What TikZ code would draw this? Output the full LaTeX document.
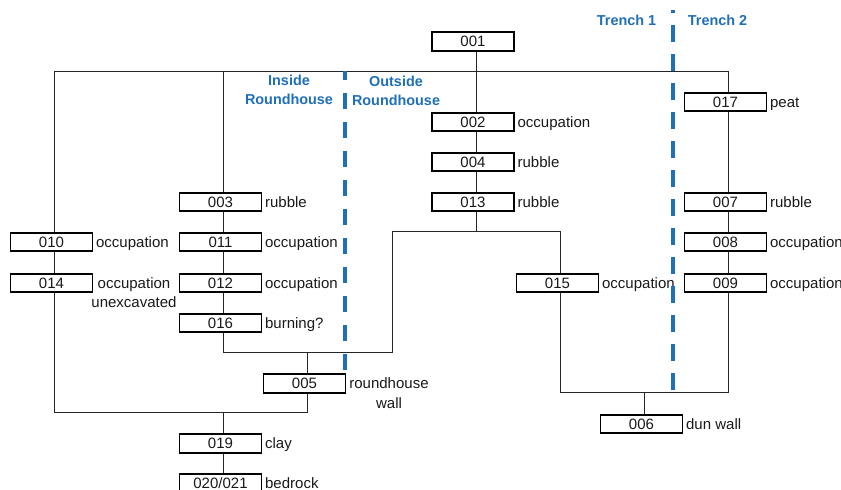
\documentclass[tikz,border=0pt]{standalone}
\usepackage{fontspec}
\setmainfont{Liberation Sans}
\definecolor{dashblue}{RGB}{31,111,186}
\definecolor{ink}{RGB}{25,25,25}
\begin{document}
\begin{tikzpicture}[x=1pt,y=-1pt,
  box/.style={draw=black, fill=white, line width=1.9pt, minimum width=82pt, minimum height=18.5pt, inner sep=0pt, font=\fontsize{15}{19.5}\selectfont, text=ink},
  lab/.style={inner sep=0pt, font=\fontsize{15}{19.5}\selectfont, text=ink, anchor=base west},
  conn/.style={line width=0.9pt, draw=black!85},
  zone/.style={draw=dashblue, line width=4pt},
  zlab/.style={inner sep=0pt, font=\fontsize{14.4}{19.5}\selectfont\bfseries, text=dashblue, align=center}
]
\useasboundingbox (0,0) rectangle (841,490);

% boxes
\node[box] (n001) at (473,41.5) {001};
\node[box] (n017) at (725.5,102) {017};
\node[box] (n002) at (473,122) {002};
\node[box] (n004) at (473,162) {004};
\node[box] (n003) at (220.5,202) {003};
\node[box] (n013) at (473,202) {013};
\node[box] (n007) at (725.5,202) {007};
\node[box] (n010) at (51.5,242) {010};
\node[box] (n011) at (220.5,242) {011};
\node[box] (n008) at (725.5,242) {008};
\node[box] (n014) at (51.5,283) {014};
\node[box] (n012) at (220.5,283) {012};
\node[box] (n015) at (557.5,283) {015};
\node[box] (n009) at (725.5,283) {009};
\node[box] (n016) at (220.5,323) {016};
\node[box] (n005) at (304.5,383.5) {005};
\node[box] (n006) at (641.5,424) {006};
\node[box] (n019) at (220.5,443.5) {019};
\node[box] (n020) at (220.5,483) {020/021};

% labels
\node[lab] (l017) at ([xshift=2.5pt]n017.east |- n017.base) {peat};
\node[lab] (l002) at ([xshift=2.5pt]n002.east |- n002.base) {occupation};
\node[lab] (l004) at ([xshift=2.5pt]n004.east |- n004.base) {rubble};
\node[lab] (l003) at ([xshift=2.5pt]n003.east |- n003.base) {rubble};
\node[lab] (l013) at ([xshift=2.5pt]n013.east |- n013.base) {rubble};
\node[lab] (l007) at ([xshift=2.5pt]n007.east |- n007.base) {rubble};
\node[lab] (l010) at ([xshift=2.5pt]n010.east |- n010.base) {occupation};
\node[lab] (l011) at ([xshift=2.5pt]n011.east |- n011.base) {occupation};
\node[lab] (l008) at ([xshift=2.5pt]n008.east |- n008.base) {occupation};
\coordinate (u014) at (134,0);
\node[lab, anchor=base] (l014) at (u014 |- n014.base) {\begin{tabular}[t]{@{}c@{}}occupation\\unexcavated\end{tabular}};
\node[lab] (l012) at ([xshift=2.5pt]n012.east |- n012.base) {occupation};
\node[lab] (l015) at ([xshift=2.5pt]n015.east |- n015.base) {occupation};
\node[lab] (l009) at ([xshift=2.5pt]n009.east |- n009.base) {occupation};
\node[lab] (l016) at ([xshift=2.5pt]n016.east |- n016.base) {burning?};
\coordinate (u005) at (389,0);
\node[lab, anchor=base] (l005) at (u005 |- n005.base) {\begin{tabular}[t]{@{}c@{}}roundhouse\\wall\end{tabular}};
\node[lab] (l006) at ([xshift=2.5pt]n006.east |- n006.base) {dun wall};
\node[lab] (l019) at ([xshift=2.5pt]n019.east |- n019.base) {clay};
\node[lab] (l020) at ([xshift=2.5pt]n020.east |- n020.base) {bedrock};

% helper coordinates
\coordinate (barY) at (0,71);
\coordinate (midY) at (0,231);
\coordinate (kl) at (392,352);
\coordinate (ku) at (392,231);
\coordinate (botY) at (0,412);
\coordinate (rbotY) at (0,392);

% connectors
\draw[conn] ([xshift=3pt]n010.north) -- ([xshift=3pt]n010.north |- barY) -- ([xshift=3pt]n017.north |- barY) -- ([xshift=3pt]n017.north);
\draw[conn] ([xshift=3pt]n003.north) -- ([xshift=3pt]n003.north |- barY);
\draw[conn] ([xshift=3pt]n001.south) -- ([xshift=3pt]n002.north);
\draw[conn] ([xshift=3pt]n002.south) -- ([xshift=3pt]n004.north);
\draw[conn] ([xshift=3pt]n004.south) -- ([xshift=3pt]n013.north);
\draw[conn] ([xshift=3pt]n013.south) -- ([xshift=3pt]n013.south |- midY);
\draw[conn] ([xshift=3pt]n016.south) |- (kl) -- (ku) -| ([xshift=3pt]n015.north);
\draw[conn] ([xshift=3pt]n005.north) -- ([xshift=3pt]n005.north |- kl);
\draw[conn] ([xshift=3pt]n010.south) -- ([xshift=3pt]n014.north);
\draw[conn] ([xshift=3pt]n003.south) -- ([xshift=3pt]n011.north);
\draw[conn] ([xshift=3pt]n011.south) -- ([xshift=3pt]n012.north);
\draw[conn] ([xshift=3pt]n012.south) -- ([xshift=3pt]n016.north);
\draw[conn] ([xshift=3pt]n014.south) -- ([xshift=3pt]n014.south |- botY) -- ([xshift=3pt]n005.south |- botY) -- ([xshift=3pt]n005.south);
\draw[conn] ([xshift=3pt]n019.north) -- ([xshift=3pt]n019.north |- botY);
\draw[conn] ([xshift=3pt]n019.south) -- ([xshift=3pt]n020.north);
\draw[conn] ([xshift=3pt]n017.south) -- ([xshift=3pt]n007.north);
\draw[conn] ([xshift=3pt]n007.south) -- ([xshift=3pt]n008.north);
\draw[conn] ([xshift=3pt]n008.south) -- ([xshift=3pt]n009.north);
\draw[conn] ([xshift=3pt]n015.south) -- ([xshift=3pt]n015.south |- rbotY) -- ([xshift=3pt]n009.south |- rbotY) -- ([xshift=3pt]n009.south);
\draw[conn] ([xshift=3pt]n006.north) -- ([xshift=3pt]n006.north |- rbotY);

% zone dividers
\coordinate (zl1) at (345,71);
\coordinate (zl2) at (345,370);
\coordinate (zr1) at (672.5,10);
\coordinate (zr2) at (672.5,390);
\draw[zone, dash pattern=on 16.5pt off 12.5pt, dash phase=7.5pt] (zl1) -- (zl2);
\draw[zone, dash pattern=on 16.5pt off 12.5pt, dash phase=13.8pt] (zr1) -- (zr2);

% zone labels
\node[zlab] (tin) at (289,90) {Inside\\Roundhouse};
\node[zlab] (tout) at (396,91) {Outside\\Roundhouse};
\node[zlab] (t1) at (626.5,20) {Trench 1};
\node[zlab] (t2) at (717.5,20) {Trench 2};
\end{tikzpicture}
\end{document}
